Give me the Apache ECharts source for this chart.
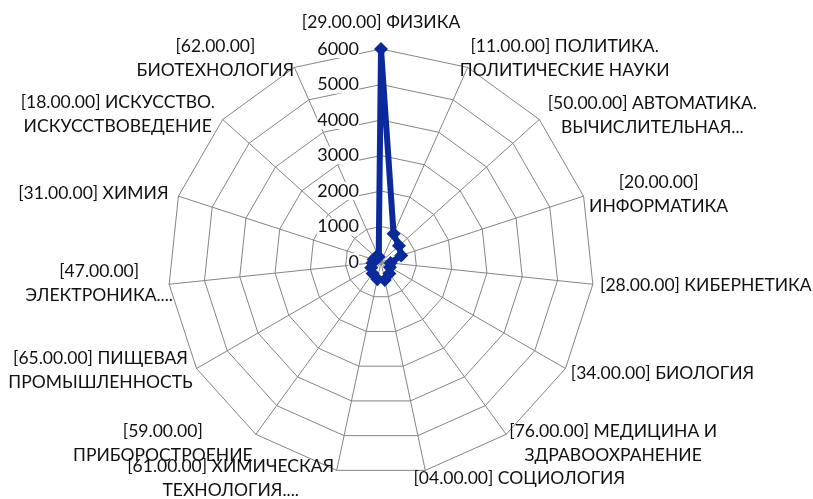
<!DOCTYPE html>
<html>
<head>
<meta charset="utf-8">
<script src="https://cdn.jsdelivr.net/npm/echarts@6/dist/echarts.min.js"></script>
<style>
  html, body { margin: 0; padding: 0; background: #fff; }
  #chart { width: 813px; height: 499px; }
</style>
</head>
<body>
<div id="chart"></div>
<script>
// Research fields (GRNTI codes) and publication counts, listed clockwise from the top
const categories = [
  '[29.00.00] ФИЗИКА',
  '[11.00.00] ПОЛИТИКА.\nПОЛИТИЧЕСКИЕ НАУКИ',
  '[50.00.00] АВТОМАТИКА.\nВЫЧИСЛИТЕЛЬНАЯ...',
  '[20.00.00]\nИНФОРМАТИКА',
  '[28.00.00] КИБЕРНЕТИКА',
  '[34.00.00] БИОЛОГИЯ',
  '[76.00.00] МЕДИЦИНА И\nЗДРАВООХРАНЕНИЕ',
  '[04.00.00] СОЦИОЛОГИЯ',
  '[61.00.00] ХИМИЧЕСКАЯ\nТЕХНОЛОГИЯ....',
  '[59.00.00]\nПРИБОРОСТРОЕНИЕ',
  '[65.00.00] ПИЩЕВАЯ\nПРОМЫШЛЕННОСТЬ',
  '[47.00.00]\nЭЛЕКТРОНИКА....',
  '[31.00.00] ХИМИЯ',
  '[18.00.00] ИСКУССТВО.\nИСКУССТВОВЕДЕНИЕ',
  '[62.00.00]\nБИОТЕХНОЛОГИЯ'
];
const counts = [6000, 870, 680, 600, 270, 290, 400, 520, 500, 400, 320, 240, 220, 200, 160];
const axisMin = 0;
const axisMax = 6000;
const axisStep = 1000;

// Offset of each category label's centre from the end of its spoke
const labelOffsets = [
  [0, -27], [97, -9], [113, -4], [75, -2], [113, 1],
  [97, 5], [107, 9], [94, 8], [-106, 8], [-93, 9],
  [-96, 2], [-70, -1], [-85, -3], [-105, -5], [-79, -9]
];

const FONT = 'Lato, "Open Sans", "Noto Sans", sans-serif';
const chart = echarts.init(document.getElementById('chart'), null, { renderer: 'canvas' });

// The radar lays indicators out counter-clockwise; keep the first one on top
// and reverse the rest so the fields run clockwise.
const order = [0].concat(categories.map((_, i) => i).slice(1).reverse());

const indicators = order.map((i, j) => {
  const ind = { name: categories[i], min: axisMin, max: axisMax };
  if (j === 0) {
    ind.axisLabel = {
      show: true,
      color: '#111',
      fontSize: 18,
      fontFamily: FONT,
      backgroundColor: '#fff',
      margin: 22,
      formatter: v => String(v)
    };
  }
  return ind;
});

chart.setOption({
  animation: false,
  backgroundColor: '#fff',
  radar: {
    center: [381, 262],
    radius: 213,
    startAngle: 90,
    shape: 'polygon',
    splitNumber: (axisMax - axisMin) / axisStep,
    indicator: indicators,
    axisName: { show: false },
    axisLabel: { show: false },
    axisTick: { show: false },
    axisLine: { lineStyle: { color: '#858585', width: 1 } },
    splitLine: { lineStyle: { color: '#858585', width: 1 } },
    splitArea: { show: false }
  },
  series: [{
    type: 'radar',
    symbol: 'diamond',
    symbolSize: 14,
    lineStyle: { color: '#0a2a9c', width: 6, join: 'round' },
    itemStyle: { color: '#0a2a9c' },
    data: [{ value: order.map(i => counts[i]) }]
  }]
});

// Category labels placed around the spoke ends of the radar
const radarCS = chart.getModel().getComponent('radar').coordinateSystem;
const texts = order.map((i, j) => {
  const p = radarCS.dataToPoint(axisMax, j);
  return {
    type: 'text',
    x: p[0] + labelOffsets[i][0],
    y: p[1] + labelOffsets[i][1],
    style: {
      text: categories[i],
      fill: '#111',
      font: '17.5px ' + FONT,
      align: 'center',
      verticalAlign: 'middle',
      lineHeight: 24
    }
  };
});
chart.setOption({ graphic: texts });
</script>
</body>
</html>
